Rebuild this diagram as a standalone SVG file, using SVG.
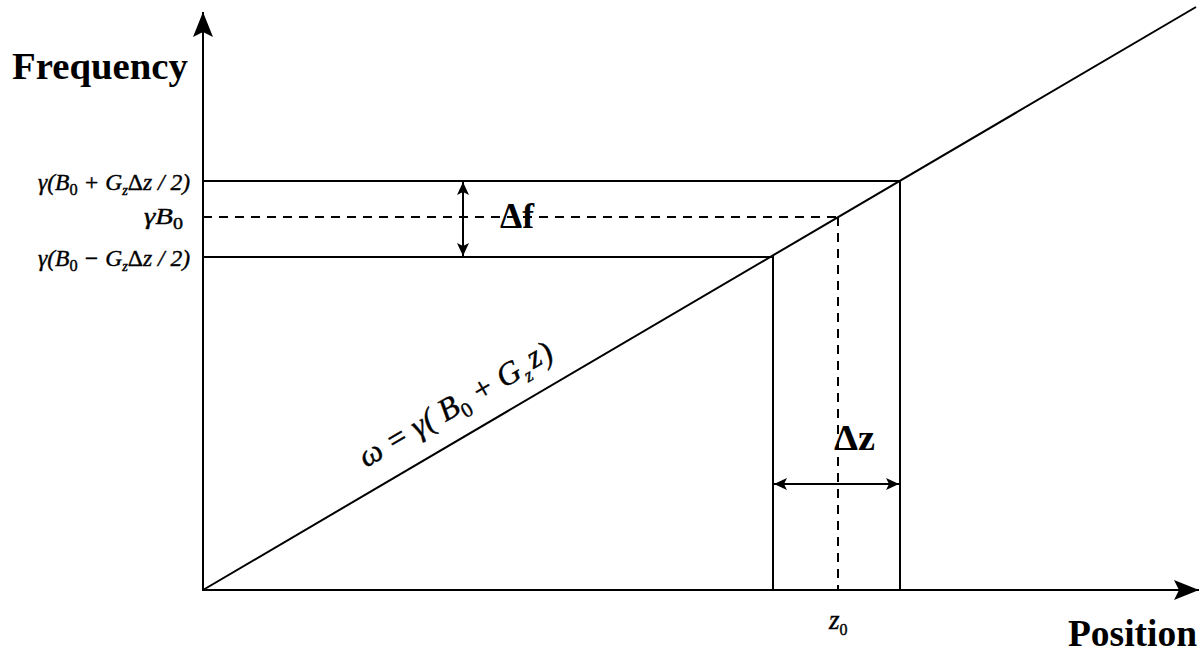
<svg xmlns="http://www.w3.org/2000/svg" width="1203" height="653" viewBox="0 0 1203 653">
<style>
.ln{stroke:#000;stroke-width:2;fill:none}
.ds{stroke:#000;stroke-width:2;fill:none;stroke-dasharray:9,7}
.lab{font-family:"Liberation Serif",serif;font-style:italic;font-size:23px;fill:#000;stroke:#000;stroke-width:0.4}
.big{font-family:"Liberation Serif",serif;font-weight:bold;font-size:38px;fill:#000}
</style>
<defs>
<marker id="ax" markerWidth="26" markerHeight="22" refX="25" refY="11" orient="auto" markerUnits="userSpaceOnUse">
<path d="M0,1 L25,11 L0,21 L5,11 Z" fill="#000"/>
</marker>
<marker id="sm" markerWidth="14" markerHeight="12" refX="13" refY="6" orient="auto-start-reverse" markerUnits="userSpaceOnUse">
<path d="M0,0 L13,6 L0,12 L3,6 Z" fill="#000"/>
</marker>
</defs>
<g id="axes">
<line class="ln" x1="203" y1="591" x2="203" y2="12" marker-end="url(#ax)"/>
<line class="ln" x1="202" y1="590" x2="1199" y2="590" marker-end="url(#ax)"/>
</g>
<g id="connectors">
<line class="ln" x1="203" y1="590" x2="1196" y2="7"/>
<polyline class="ln" points="203,181 900,181 900,590"/>
<polyline class="ln" points="203,257 773,257 773,590"/>
<line class="ds" x1="203" y1="217" x2="838" y2="217"/>
<line class="ds" x1="838" y1="217" x2="838" y2="590"/>
<line class="ln" x1="463" y1="182" x2="463" y2="256" marker-start="url(#sm)" marker-end="url(#sm)"/>
<line class="ln" x1="774" y1="484" x2="899" y2="484" marker-start="url(#sm)" marker-end="url(#sm)"/>
</g>
<g id="labels">
<text class="big" x="12" y="79" textLength="176" lengthAdjust="spacingAndGlyphs">Frequency</text>
<text class="big" x="1068" y="646" textLength="129" lengthAdjust="spacingAndGlyphs">Position</text>
<text class="big" x="500" y="228" style="font-size:35px" textLength="34" lengthAdjust="spacingAndGlyphs">Δf</text>
<text class="big" x="834" y="450" style="font-size:35px" textLength="41" lengthAdjust="spacingAndGlyphs">Δz</text>
<text class="lab" x="38" y="190" textLength="152" lengthAdjust="spacingAndGlyphs">γ(B<tspan font-style="normal" font-size="16" dy="5">0</tspan><tspan dy="-5"> + G</tspan><tspan font-size="14" dy="5">z</tspan><tspan font-style="normal" dy="-5">Δ</tspan>z / 2)</text>
<text class="lab" x="144" y="224" textLength="39" lengthAdjust="spacingAndGlyphs">γB<tspan font-style="normal" font-size="16" dy="5">0</tspan></text>
<text class="lab" x="38" y="266" textLength="152" lengthAdjust="spacingAndGlyphs">γ(B<tspan font-style="normal" font-size="16" dy="5">0</tspan><tspan dy="-5"> − G</tspan><tspan font-size="14" dy="5">z</tspan><tspan font-style="normal" dy="-5">Δ</tspan>z / 2)</text>
<text class="lab" x="829" y="629" style="font-size:27px">z<tspan font-style="normal" font-size="16" dy="6">0</tspan></text>
<text class="lab" transform="translate(366,468) rotate(-30)" style="font-size:32px">ω = γ( B<tspan font-style="normal" font-size="21" dy="7">0</tspan><tspan dy="-7"> + G</tspan><tspan font-size="19" dx="1" dy="7">z</tspan><tspan dx="4" dy="-9">z</tspan><tspan dx="1" dy="2">)</tspan></text>
</g>
</svg>
